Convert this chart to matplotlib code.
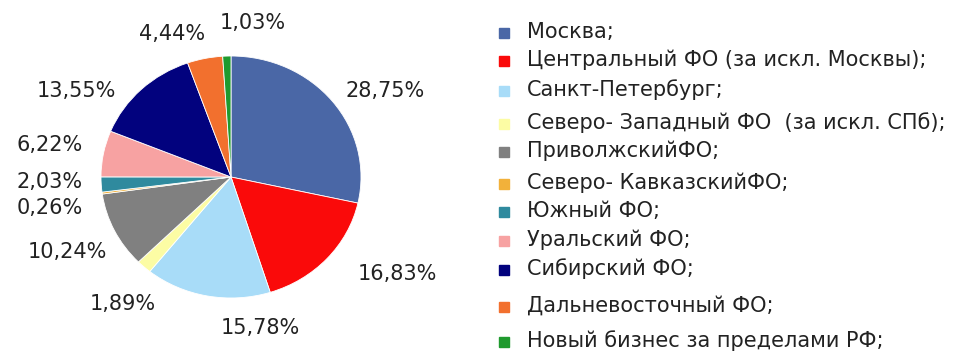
import matplotlib
matplotlib.use("Agg")
import matplotlib.pyplot as plt

# Доли бизнеса по регионам, %
regions = [
    "Москва;",
    "Центральный ФО (за искл. Москвы);",
    "Санкт-Петербург;",
    "Северо- Западный ФО  (за искл. СПб);",
    "ПриволжскийФО;",
    "Северо- КавказскийФО;",
    "Южный ФО;",
    "Уральский ФО;",
    "Сибирский ФО;",
    "Дальневосточный ФО;",
    "Новый бизнес за пределами РФ;",
]
shares = [28.75, 16.83, 15.78, 1.89, 10.24, 0.26, 2.03, 6.22, 13.55, 4.44, 1.03]
colors = ["#4a67a6", "#fa0a0a", "#a8dcf8", "#fcfca4", "#808080", "#f2b13a",
          "#2f8a9e", "#f7a2a2", "#02027e", "#f2702e", "#1f9a2e"]

W, H = 960, 353
fig = plt.figure(figsize=(W / 100, H / 100), dpi=100)
fig.patch.set_facecolor("white")

def fx(px):
    return px / W

def fy(py):
    return 1 - py / H

# Круговая диаграмма (слегка растянута по горизонтали)
cx, cy, rx, ry = 231, 177, 130, 121
ax = fig.add_axes([fx(cx - rx), fy(cy + ry), 2 * rx / W, 2 * ry / H])
ax.pie(shares, colors=colors, startangle=90, counterclock=False,
       wedgeprops=dict(edgecolor="white", linewidth=0.6))
ax.set_aspect("auto")
ax.set_xlim(-1, 1)
ax.set_ylim(-1, 1)
ax.axis("off")

# Подписи значений
label_pos = [(385, 91), (397, 274), (260, 328), (123, 304), (67, 252),
             (50, 208), (50, 182), (50, 145), (76, 91), (172, 34), (253, 23)]
for v, (px, py) in zip(shares, label_pos):
    fig.text(fx(px), fy(py), f"{v:.2f}%".replace(".", ","), ha="center",
             va="center", fontsize=15, color="#222222")

# Легенда
legend_y = [33, 61, 91, 124, 152, 184, 212, 241, 270, 307, 342]
for name, c, py in zip(regions, colors, legend_y):
    fig.lines.append(plt.Line2D([fx(504)], [fy(py)], marker="s", markersize=6.5,
                                color=c, linestyle="none",
                                transform=fig.transFigure))
    fig.text(fx(527), fy(py - 1), name, ha="left", va="center",
             fontsize=15, color="#222222")

fig.savefig("out.png", dpi=100, facecolor="white")
